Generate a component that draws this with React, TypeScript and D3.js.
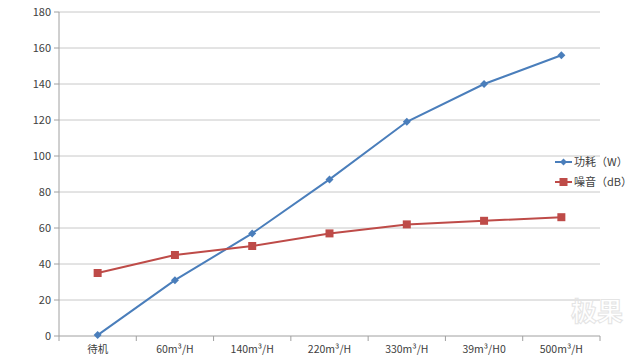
import React from "react";
import * as d3 from "d3";

const categories = ["待机", "60m³/H", "140m³/H", "220m³/H", "330m³/H", "39m³/H0", "500m³/H"];
const powerValues = [0.5, 31, 57, 87, 119, 140, 156];
const noiseValues = [35, 45, 50, 57, 62, 64, 66];
const yTicks = [0, 20, 40, 60, 80, 100, 120, 140, 160, 180];
const seriesNames = ["功耗（W）", "噪音（dB）"];

const W = 640, H = 360;
const left = 59, right = 600, top = 12, bottom = 336;
const BLUE = "#4a7ebb", RED = "#be4b48";
const FONT = "'Noto Sans CJK SC', 'Noto Sans', sans-serif";

export default function App() {
  const x = d3.scaleBand<string>().domain(categories).range([left, right]);
  const y = d3.scaleLinear().domain([0, 180]).range([bottom, top]);
  const cx = (c: string) => (x(c) as number) + x.bandwidth() / 2;
  const line = d3.line<number>().x((_, i) => cx(categories[i])).y((d) => y(d));
  const boundaries = categories.map((c) => x(c) as number).concat([right]);

  const diamond = (px: number, py: number, r: number) =>
    `M${px},${py - r}L${px + r},${py}L${px},${py + r}L${px - r},${py}Z`;

  return (
    <svg width={W} height={H} style={{ position: "absolute", left: 0, top: 0, background: "#fff" }} fontFamily={FONT}>
      <rect width={W} height={H} fill="#fff" />
      {yTicks.map((t) => (
        <g key={t}>
          {t > 0 && <line x1={left} x2={right} y1={y(t)} y2={y(t)} stroke="#c8c8c8" strokeWidth={1} />}
          <line x1={left - 5} x2={left} y1={y(t)} y2={y(t)} stroke="#a0a0a0" strokeWidth={1} />
          <text x={51} y={y(t) + 4} textAnchor="end" fontSize={11} fill="#404040">{t}</text>
        </g>
      ))}
      <line x1={left} x2={left} y1={top} y2={bottom} stroke="#a0a0a0" strokeWidth={1} />
      <line x1={left} x2={right} y1={bottom} y2={bottom} stroke="#a0a0a0" strokeWidth={1} />
      {boundaries.map((b, i) => (
        <line key={i} x1={b} x2={b} y1={bottom} y2={bottom + 5} stroke="#a0a0a0" strokeWidth={1} />
      ))}
      {categories.map((c) => (
        <text key={c} x={cx(c)} y={bottom + 17} textAnchor="middle" fontSize={10.5} fill="#404040">{c}</text>
      ))}
      <path d={line(powerValues) || ""} fill="none" stroke={BLUE} strokeWidth={2} />
      <path d={line(noiseValues) || ""} fill="none" stroke={RED} strokeWidth={2} />
      {powerValues.map((v, i) => (
        <path key={i} d={diamond(cx(categories[i]), y(v), 4)} fill={BLUE} />
      ))}
      {noiseValues.map((v, i) => (
        <rect key={i} x={cx(categories[i]) - 4} y={y(v) - 4} width={8} height={8} fill={RED} />
      ))}
      <g>
        <line x1={555} x2={572} y1={162} y2={162} stroke={BLUE} strokeWidth={2} />
        <path d={diamond(563.5, 162, 3.5)} fill={BLUE} />
        <text x={574} y={166} fontSize={11} fill="#404040">{seriesNames[0]}</text>
        <line x1={555} x2={572} y1={182} y2={182} stroke={RED} strokeWidth={2} />
        <rect x={559.5} y={178} width={8} height={8} fill={RED} />
        <text x={574} y={186} fontSize={11} fill="#404040">{seriesNames[1]}</text>
      </g>
      <text x={597} y={321} textAnchor="middle" fontSize={26} fontWeight="bold" fill="none" stroke="#e4e4e4" strokeWidth={1}>极果</text>
    </svg>
  );
}
